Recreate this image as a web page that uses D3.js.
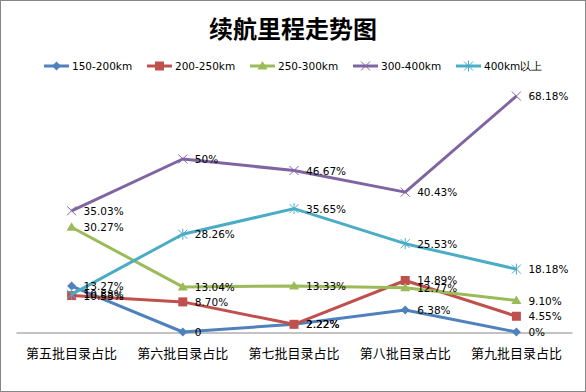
<!DOCTYPE html>
<html><head><meta charset="utf-8">
<script src="https://cdn.jsdelivr.net/npm/d3@7"></script>
<style>html,body{margin:0;padding:0;background:#fff;}svg{display:block;}</style>
</head><body>
<svg id="chart" width="586" height="392"></svg>
<script>
const categories = ["第五批目录占比","第六批目录占比","第七批目录占比","第八批目录占比","第九批目录占比"];
const seriesNames = ["150-200km","200-250km","250-300km","300-400km","400km以上"];
const s150_200 = [13.27, 0, 2.22, 6.38, 0];
const s200_250 = [10.53, 8.70, 2.22, 14.89, 4.55];
const s250_300 = [30.27, 13.04, 13.33, 12.77, 9.10];
const s300_400 = [35.03, 50, 46.67, 40.43, 68.18];
const s400plus = [10.88, 28.26, 35.65, 25.53, 18.18];
const labels150_200 = ["13.27%","0","2.22%","6.38%","0%"];
const labels200_250 = ["10.53%","8.70%","2.22%","14.89%","4.55%"];
const labels250_300 = ["30.27%","13.04%","13.33%","12.77%","9.10%"];
const labels300_400 = ["35.03%","50%","46.67%","40.43%","68.18%"];
const labels400plus = ["10.88%","28.26%","35.65%","25.53%","18.18%"];
const colors = ["#4F81BD","#C0504D","#9BBB59","#8064A2","#4BACC6"];
const markers = ["diamond","square","triangle","x","star"];

const series = [s150_200,s200_250,s250_300,s300_400,s400plus].map((v,i)=>({
  name: seriesNames[i], values: v, color: colors[i], marker: markers[i],
  labels: [labels150_200,labels200_250,labels250_300,labels300_400,labels400plus][i]
}));

const svg = d3.select("#chart");
svg.append("rect").attr("x",0.5).attr("y",0.5).attr("width",585).attr("height",391)
  .attr("fill","#fff").attr("stroke","#868686").attr("stroke-width",1);

svg.append("text").attr("x",293).attr("y",38).attr("text-anchor","middle")
  .attr("font-family","'Noto Sans CJK SC'").attr("font-weight","bold").attr("font-size",24)
  .attr("fill","#000").text("续航里程走势图");

const x = d3.scaleBand().domain(categories).range([16,572]);
const y = d3.scaleLinear().domain([0,70]).range([332,89.8]);

// axis
const ax = svg.append("g").attr("transform","translate(0,332.5)")
  .call(d3.axisBottom(x).tickSize(0).tickPadding(16));
ax.select(".domain").attr("stroke","#868686").attr("stroke-width",1);
ax.selectAll("text").attr("font-family","'Noto Sans CJK SC'").attr("font-size",13).attr("fill","#000");

function drawMarker(g, type, cx, cy, color){
  const s = 4.5;
  if(type==="diamond"){
    g.append("path").attr("d",`M${cx},${cy-s}L${cx+s},${cy}L${cx},${cy+s}L${cx-s},${cy}Z`).attr("fill",color);
  } else if(type==="square"){
    g.append("rect").attr("x",cx-s).attr("y",cy-s).attr("width",2*s).attr("height",2*s).attr("fill",color);
  } else if(type==="triangle"){
    g.append("path").attr("d",`M${cx},${cy-s-0.5}L${cx+s+0.5},${cy+s-1}L${cx-s-0.5},${cy+s-1}Z`).attr("fill",color);
  } else if(type==="x"){
    g.append("path").attr("d",`M${cx-s},${cy-s}L${cx+s},${cy+s}M${cx-s},${cy+s}L${cx+s},${cy-s}`)
      .attr("stroke",color).attr("stroke-width",1);
  } else if(type==="star"){
    g.append("path").attr("d",`M${cx-s},${cy-s}L${cx+s},${cy+s}M${cx-s},${cy+s}L${cx+s},${cy-s}M${cx},${cy-s-1}L${cx},${cy+s+1}`)
      .attr("stroke",color).attr("stroke-width",1);
  }
}

const line = d3.line().x((d,i)=>x(categories[i])+x.bandwidth()/2).y(d=>y(d));

series.forEach(s=>{
  const g = svg.append("g");
  g.append("path").datum(s.values).attr("d",line).attr("fill","none")
    .attr("stroke",s.color).attr("stroke-width",3).attr("stroke-linejoin","round");
  s.values.forEach((v,i)=>drawMarker(g,s.marker,x(categories[i])+x.bandwidth()/2,y(v),s.color));
});
series.forEach(s=>{
  svg.append("g").selectAll("text").data(s.values).join("text")
    .attr("x",(d,i)=>x(categories[i])+x.bandwidth()/2+12)
    .attr("y",d=>y(d)+4)
    .attr("font-family","'DejaVu Sans'").attr("font-size",10.5).attr("fill","#000")
    .text((d,i)=>s.labels[i]);
});

// legend
const legendX = [44,147,250,353,456];
const lg = svg.append("g");
series.forEach((s,i)=>{
  const g = lg.append("g");
  const lx = legendX[i], ly = 66;
  g.append("line").attr("x1",lx).attr("x2",lx+25).attr("y1",ly).attr("y2",ly)
    .attr("stroke",s.color).attr("stroke-width",3);
  drawMarker(g,s.marker,lx+12.5,ly,s.color);
  g.append("text").attr("x",lx+28).attr("y",ly+4).attr("font-family","'DejaVu Sans'")
    .attr("font-size",10.5).attr("fill","#000").text(s.name);
});
</script>
</body></html>
